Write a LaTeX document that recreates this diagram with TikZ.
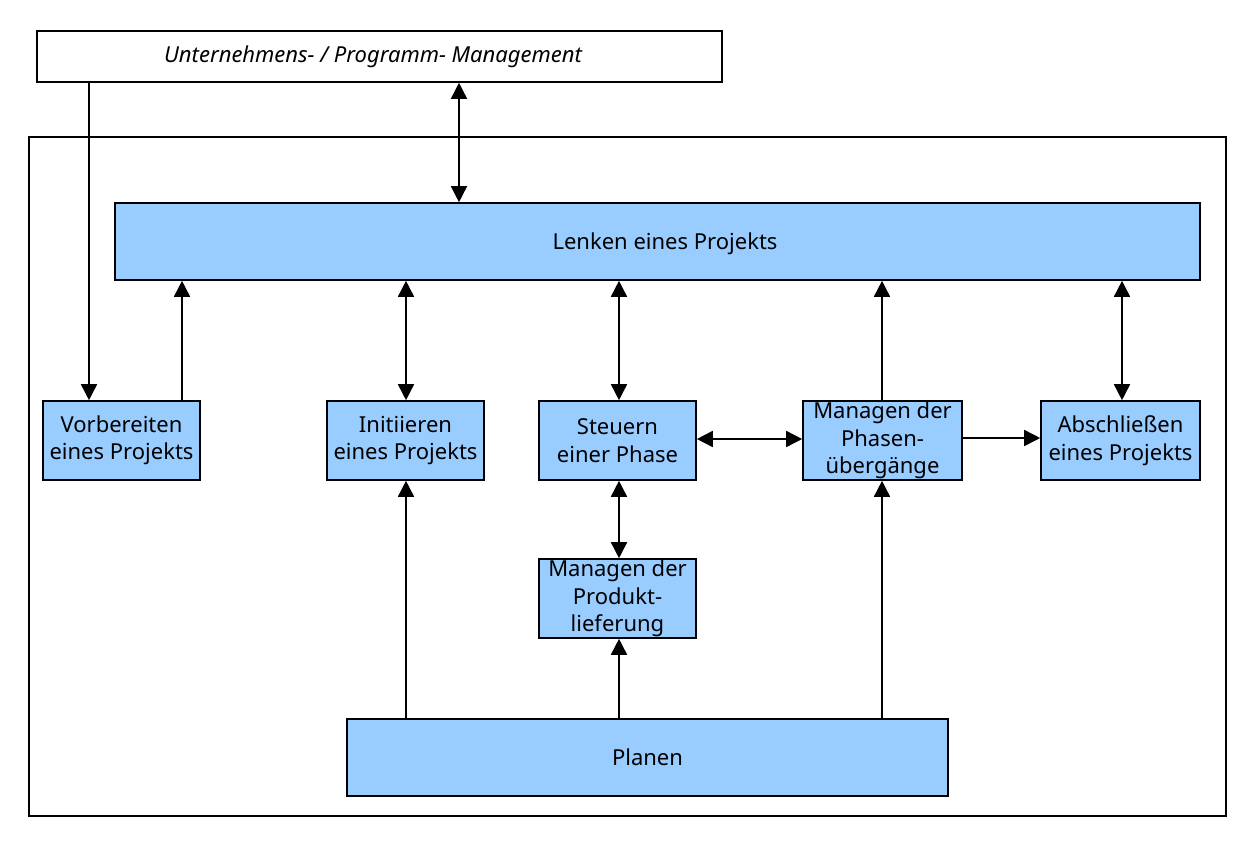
\documentclass[tikz,border=0pt]{standalone}
\usepackage{fontspec}
\setmainfont{Noto Sans}
\usetikzlibrary{arrows.meta}
\definecolor{boxblue}{HTML}{99CCFF}
\begin{document}
\begin{tikzpicture}[x=1pt,y=-1pt,
  every node/.style={font=\fontsize{22}{27.5}\selectfont, align=center, inner sep=0pt},
  frame/.style={draw=black, line width=1.6pt},
  proc/.style={draw=black, line width=1.6pt, fill=boxblue},
  conn/.style={line width=1.6pt, arrows={-Triangle[length=16pt,width=16pt]}},
  bconn/.style={line width=1.6pt, arrows={Triangle[length=16pt,width=16pt]-Triangle[length=16pt,width=16pt]}},
  plain/.style={line width=1.6pt}]
\useasboundingbox (0,0) rectangle (1256,846);
% boxes
\node[frame, fill=white, minimum width=685pt, minimum height=51pt] (top) at (379.5,56.5) {};
\node at (373,56.5) {\itshape Unternehmens- / Programm- Management};
\draw[frame] (29,137) rectangle (1226,816);
\node[proc, minimum width=1085pt, minimum height=77pt] (lenk) at (657.5,241.5) {};
\node at (665,244) {Lenken eines Projekts};
\node[proc, minimum width=157pt, minimum height=79pt] (vor) at (121.5,440.5) {Vorbereiten\\eines Projekts};
\node[proc, minimum width=157pt, minimum height=79pt] (ini) at (405.5,440.5) {Initiieren\\eines Projekts};
\node[proc, minimum width=157pt, minimum height=79pt] (steu) at (617.5,440.5) {Steuern\\einer Phase};
\node[proc, minimum width=159pt, minimum height=79pt] (phas) at (882.5,440.5) {Managen der\\Phasen-\\übergänge};
\node[proc, minimum width=159pt, minimum height=79pt] (absch) at (1120.5,440.5) {Abschließen\\eines Projekts};
\node[proc, minimum width=157pt, minimum height=79pt] (prod) at (617.5,598.5) {Managen der\\Produkt-\\lieferung};
\node[proc, minimum width=601pt, minimum height=77pt] (plan) at (647.5,757.5) {Planen};
% connectors
\draw[conn] (top.south -| 89,0) -- (vor.north -| 89,0);
\draw[bconn] (top.south -| 459,0) -- (lenk.north -| 459,0);
\draw[conn] (vor.north -| 182,0) -- (lenk.south -| 182,0);
\draw[bconn] (lenk.south -| 406,0) -- (ini.north -| 406,0);
\draw[bconn] (lenk.south -| 619,0) -- (steu.north -| 619,0);
\draw[conn] (phas.north -| 882,0) -- (lenk.south -| 882,0);
\draw[bconn] (lenk.south -| 1122,0) -- (absch.north -| 1122,0);
\draw[bconn] (steu.east |- 0,439) -- (phas.west |- 0,439);
\draw[conn] (phas.east |- 0,438) -- (absch.west |- 0,438);
\draw[bconn] (steu.south -| 619,0) -- (prod.north -| 619,0);
\draw[conn] (plan.north -| 406,0) -- (ini.south -| 406,0);
\draw[conn] (plan.north -| 619,0) -- (prod.south -| 619,0);
\draw[conn] (plan.north -| 882,0) -- (phas.south -| 882,0);
\end{tikzpicture}
\end{document}
